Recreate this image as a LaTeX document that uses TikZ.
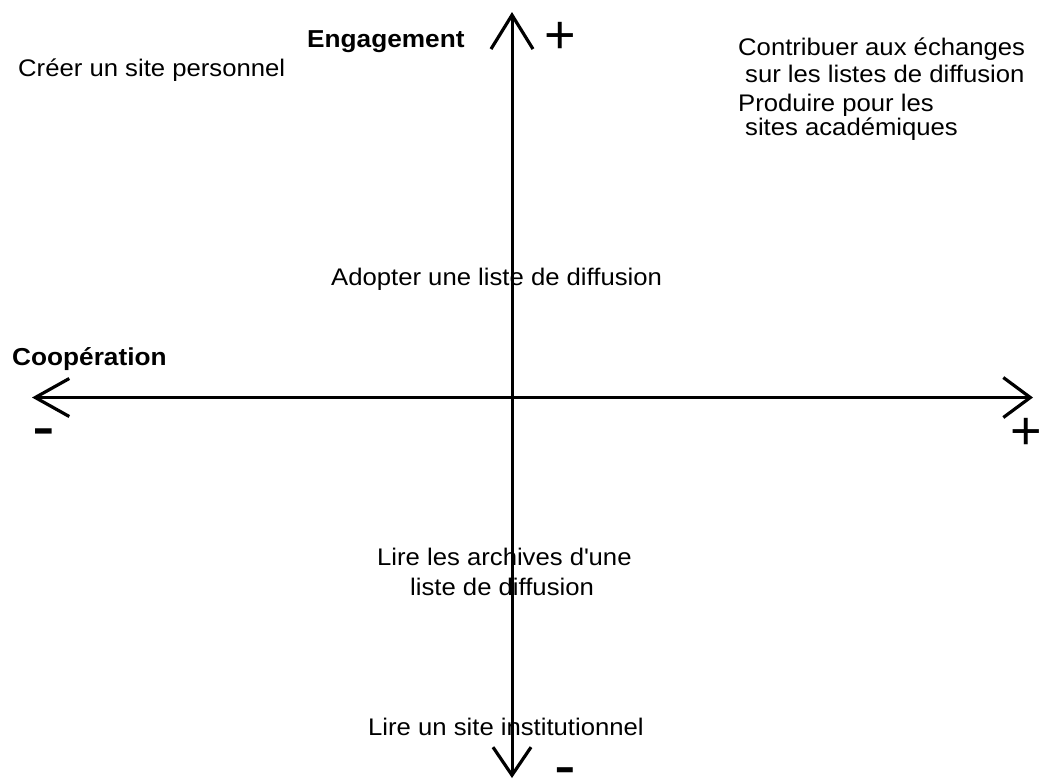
\documentclass[tikz,border=0pt]{standalone}
\usepackage{fontspec}
\setmainfont{Liberation Sans}[FakeStretch=1.07]
\newfontfamily\symfont{Liberation Sans}
\usetikzlibrary{arrows.meta}
\tikzset{
  lbl/.style={inner sep=0pt, anchor=base west, font=\fontsize{24}{28}\selectfont, text=black},
  blbl/.style={lbl, font=\fontsize{24.5}{28}\selectfont\bfseries},
  sgn/.style={inner sep=0pt, anchor=base, text=black},
  axis/.style={line width=3pt, line cap=butt, line join=round},
}
\begin{document}
\begin{tikzpicture}[x=1pt,y=-1pt]
\useasboundingbox[fill=white] (0,0) rectangle (1042,780);
% axis ends
\coordinate (T) at (512,12);
\coordinate (B) at (512,778);
\coordinate (L) at (32,397.5);
\coordinate (R) at (1033,397.5);
% axes
\draw[axis, {Straight Barb[length=28pt,width=38pt,line width=3.2pt]}-{Straight Barb[length=34pt,width=42pt,line width=3.2pt]}] (B) -- (T);
\draw[axis, {Straight Barb[length=34pt,width=38pt,line width=3.2pt]}-{Straight Barb[length=27pt,width=40pt,line width=3.2pt]}] (L) -- (R);
% axis titles and signs
\node[blbl] (eng) at (307,47) {Engagement};
\node[blbl] (coop) at (12,365) {Coopération};
\node[sgn, font=\symfont\fontsize{54}{60}\selectfont] (ptop) at (560,53.5) {+};
\node[sgn, font=\symfont\fontsize{54}{60}\selectfont] (pright) at (1026.5,449) {+};
\node[sgn, font=\symfont\fontsize{68}{70}\selectfont] (mleft) at (43.5,433) {\raisebox{-0.236em}[0.1em][0pt]{-}};
\node[sgn, font=\symfont\fontsize{65}{70}\selectfont] (mbot) at (565,772) {\raisebox{-0.236em}[0.1em][0pt]{-}};
% activities
\node[lbl] (creer) at (18,76) {Créer un site personnel};
\node[lbl] (contrib1) at (738,55) {Contribuer aux échanges};
\node[lbl] (contrib2) at (745,82) {sur les listes de diffusion};
\node[lbl] (prod1) at (738,111) {Produire pour les};
\node[lbl] (prod2) at (745,135) {sites académiques};
\node[lbl] (adopter) at (331,285) {Adopter une liste de diffusion};
\node[lbl] (archives1) at (377,565) {Lire les archives d\textquotesingle une};
\node[lbl] (archives2) at (410,595) {liste de diffusion};
\node[lbl] (instit) at (368,735) {Lire un site institutionnel};
\end{tikzpicture}
\end{document}
